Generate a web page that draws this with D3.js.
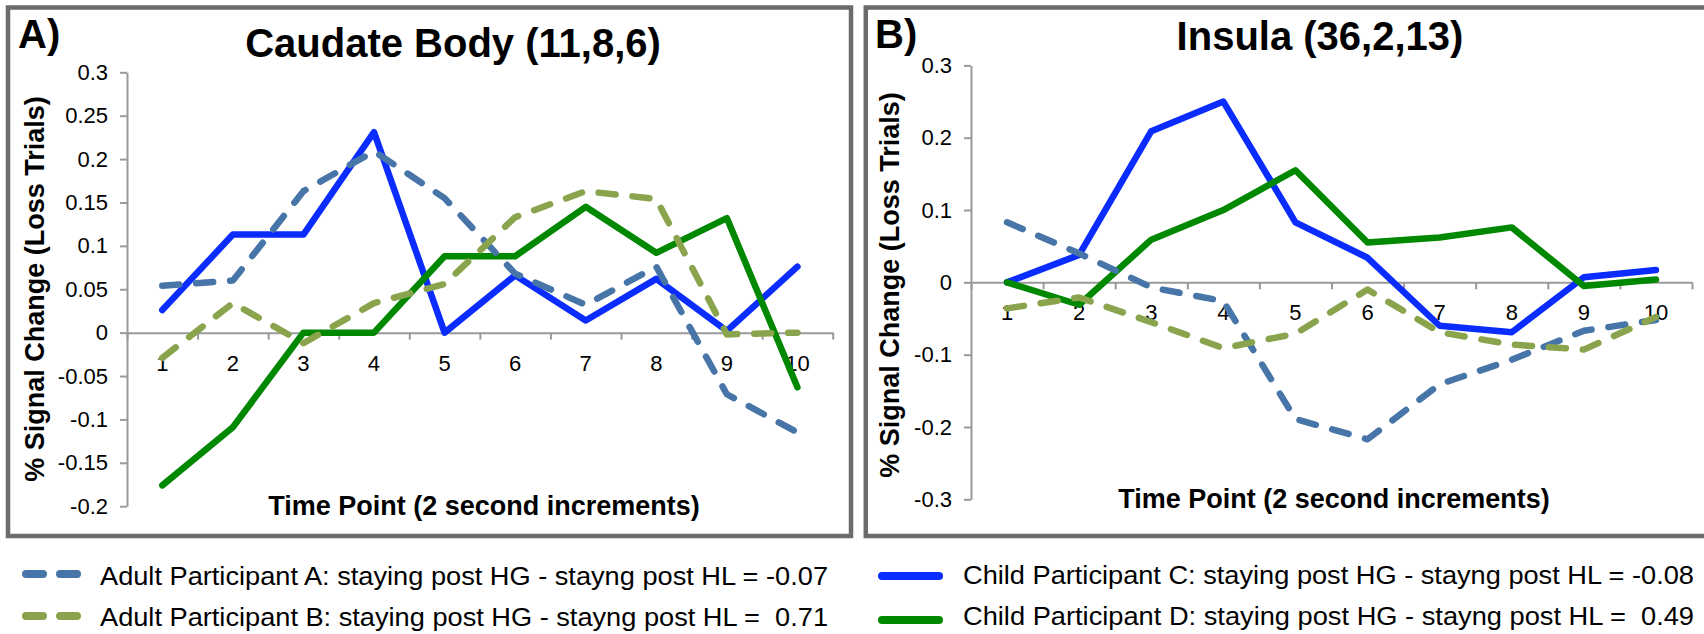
<!DOCTYPE html>
<html>
<head>
<meta charset="utf-8">
<script src="https://cdnjs.cloudflare.com/ajax/libs/d3/7.8.5/d3.min.js"></script>
<style>
  body { margin: 0; background: #fff; }
  svg { display: block; font-family: "Liberation Sans", Arial, sans-serif; }
</style>
</head>
<body>
<svg id="chart" width="1704" height="634"></svg>
<script>
// x categories (2 second increments)
var timePoints = [1, 2, 3, 4, 5, 6, 7, 8, 9, 10];

// Caudate Body (11,8,6)
var caudateAdultA = [0.054, 0.060, 0.163, 0.209, 0.155, 0.068, 0.032, 0.076, -0.071, -0.115];
var caudateAdultB = [-0.029, 0.034, -0.012, 0.034, 0.056, 0.133, 0.163, 0.154, -0.002, 0.000];
var caudateChildC = [0.026, 0.113, 0.113, 0.231, 0.000, 0.066, 0.014, 0.062, 0.002, 0.076];
var caudateChildD = [-0.176, -0.109, 0.000, 0.000, 0.088, 0.088, 0.145, 0.092, 0.132, -0.063];
var caudateTicks = [-0.2, -0.15, -0.1, -0.05, 0, 0.05, 0.1, 0.15, 0.2, 0.25, 0.3];

// Insula (36,2,13)
var insulaAdultA = [0.083, 0.040, -0.007, -0.026, -0.189, -0.217, -0.141, -0.107, -0.067, -0.052];
var insulaAdultB = [-0.036, -0.021, -0.055, -0.091, -0.071, -0.010, -0.069, -0.086, -0.093, -0.048];
var insulaChildC = [0.000, 0.038, 0.209, 0.250, 0.083, 0.034, -0.060, -0.069, 0.007, 0.017];
var insulaChildD = [0.000, -0.031, 0.059, 0.100, 0.155, 0.055, 0.062, 0.076, -0.005, 0.004];
var insulaTicks = [-0.3, -0.2, -0.1, 0, 0.1, 0.2, 0.3];

var seriesLabels = [
    "Adult Participant A: staying post HG - stayng post HL = -0.07",
    "Adult Participant B: staying post HG - stayng post HL =  0.71",
    "Child Participant C: staying post HG - stayng post HL = -0.08",
    "Child Participant D: staying post HG - stayng post HL =  0.49"
];

var svg = d3.select("#chart");

// series look, solids drawn first so dashed sit on top
var styles = {
    A: {color: "#4775a8", dash: "17,17"},
    B: {color: "#8aa44e", dash: "17,17"},
    C: {color: "#0a2cff", dash: null},
    D: {color: "#008800", dash: null}
};
var drawOrder = ["C", "D", "A", "B"];

var panels = [
    {
        letter: "A)", letterX: 18, letterY: 48,
        title: "Caudate Body (11,8,6)", titleX: 453, titleY: 57,
        frame: [8, 7.5, 843, 528.5],
        left: 127, right: 832.7, top: 72.3, bottom: 506.2,
        domain: [-0.2, 0.3], ticks: caudateTicks, labelPad: 23,
        yTitleX: 35, yTitleY: 289, xTitleX: 484, xTitleY: 515,
        series: {A: caudateAdultA, B: caudateAdultB, C: caudateChildC, D: caudateChildD}
    },
    {
        letter: "B)", letterX: 875, letterY: 48,
        title: "Insula (36,2,13)", titleX: 1320, titleY: 50,
        frame: [865.8, 7.5, 900, 528.5],
        left: 971, right: 1692, top: 65.4, bottom: 499.3,
        domain: [-0.3, 0.3], ticks: insulaTicks, labelPad: 22,
        yTitleX: 890, yTitleY: 285, xTitleX: 1334, xTitleY: 508,
        series: {A: insulaAdultA, B: insulaAdultB, C: insulaChildC, D: insulaChildD}
    }
];

function fmt(d) {
    return d === 0 ? "0" : String(d);
}

function styleAxis(sel) {
    sel.attr("font-family", null).attr("font-size", null);
    sel.selectAll(".domain, line").attr("stroke", "#9a9a9a").attr("stroke-width", 2);
    sel.selectAll("text").attr("fill", "#000").style("font-size", "22px");
}

function drawPanel(p) {
    var g = svg.append("g");

    g.append("rect")
        .attr("x", p.frame[0]).attr("y", p.frame[1])
        .attr("width", p.frame[2]).attr("height", p.frame[3])
        .attr("fill", "none")
        .attr("stroke", "#6b6b6b")
        .attr("stroke-width", 4.5);

    var x = d3.scaleBand().domain(timePoints).range([p.left, p.right]);
    var xEdge = d3.scaleLinear().domain([0, timePoints.length]).range([p.left, p.right]);
    var y = d3.scaleLinear().domain(p.domain).range([p.bottom, p.top]);

    // y axis
    g.append("g")
        .attr("transform", "translate(" + p.left + ",0)")
        .call(d3.axisLeft(y).tickValues(p.ticks).tickSize(7).tickSizeOuter(0).tickPadding(12).tickFormat(fmt))
        .call(styleAxis);

    // category labels (under the lines)
    g.append("g")
        .attr("transform", "translate(0," + y(0) + ")")
        .call(d3.axisBottom(x).tickSize(0).tickPadding(p.labelPad))
        .call(styleAxis)
        .call(function (s) { s.select(".domain").remove(); });

    // x axis on zero with ticks between categories
    g.append("g")
        .attr("transform", "translate(0," + y(0) + ")")
        .call(d3.axisBottom(xEdge).tickValues(d3.range(0, timePoints.length + 1)).tickSize(7).tickSizeOuter(0).tickFormat(""))
        .call(styleAxis);

    var line = d3.line()
        .x(function (d, i) { return x(timePoints[i]) + x.bandwidth() / 2; })
        .y(function (d) { return y(d); });

    drawOrder.forEach(function (k) {
        g.append("path")
            .datum(p.series[k])
            .attr("d", line)
            .attr("fill", "none")
            .attr("stroke", styles[k].color)
            .attr("stroke-width", 6.5)
            .attr("stroke-linecap", "round")
            .attr("stroke-linejoin", "round")
            .attr("stroke-dasharray", styles[k].dash);
    });

    g.append("text")
        .attr("x", p.letterX).attr("y", p.letterY)
        .style("font-size", "40px").style("font-weight", "bold")
        .text(p.letter);

    g.append("text")
        .attr("x", p.titleX).attr("y", p.titleY)
        .attr("text-anchor", "middle")
        .style("font-size", "40px").style("font-weight", "bold")
        .text(p.title);

    g.append("text")
        .attr("transform", "translate(" + p.yTitleX + "," + p.yTitleY + ") rotate(-90)")
        .attr("text-anchor", "middle")
        .attr("dy", "0.35em")
        .style("font-size", "27px").style("font-weight", "bold")
        .text("% Signal Change (Loss Trials)");

    g.append("text")
        .attr("x", p.xTitleX).attr("y", p.xTitleY)
        .attr("text-anchor", "middle")
        .style("font-size", "27px").style("font-weight", "bold")
        .text("Time Point (2 second increments)");
}

panels.forEach(drawPanel);

// legend below the panels
var legendItems = [
    {key: "A", text: seriesLabels[0], x0: 26, x1: 77, y: 574, tx: 100, ty: 585, len: 728},
    {key: "B", text: seriesLabels[1], x0: 26, x1: 77, y: 616, tx: 100, ty: 626, len: 728},
    {key: "C", text: seriesLabels[2], x0: 882, x1: 939, y: 576, tx: 963, ty: 584, len: 731},
    {key: "D", text: seriesLabels[3], x0: 882, x1: 939, y: 620, tx: 963, ty: 624.5, len: 731}
];

var legend = svg.append("g");
legendItems.forEach(function (d) {
    legend.append("line")
        .attr("x1", d.x0).attr("x2", d.x1)
        .attr("y1", d.y).attr("y2", d.y)
        .attr("stroke", styles[d.key].color)
        .attr("stroke-width", 8)
        .attr("stroke-linecap", "round")
        .attr("stroke-dasharray", styles[d.key].dash);
    legend.append("text")
        .attr("x", d.tx).attr("y", d.ty)
        .attr("textLength", d.len)
        .attr("lengthAdjust", "spacingAndGlyphs")
        .style("font-size", "26px")
        .style("white-space", "pre")
        .text(d.text);
});
</script>
</body>
</html>
